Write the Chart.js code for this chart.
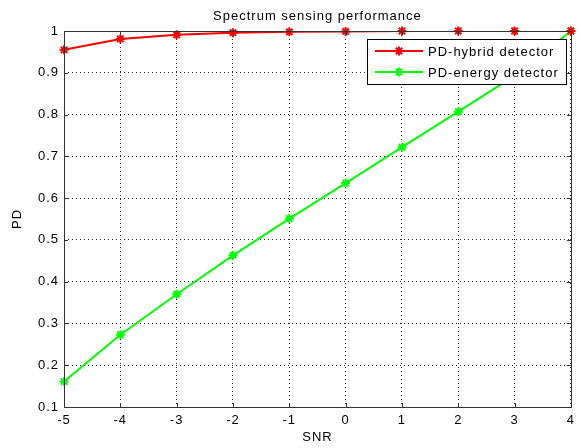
<!DOCTYPE html>
<html>
<head>
<meta charset="utf-8">
<style>
  html, body { margin: 0; padding: 0; background: #ffffff; }
  #wrap { width: 581px; height: 448px; }
</style>
<script src="https://cdn.jsdelivr.net/npm/chart.js@4/dist/chart.umd.min.js"></script>
</head>
<body>
<div id="wrap"><canvas id="c" width="581" height="448"></canvas></div>
<script>
// ---- data ----
const snr = [-5, -4, -3, -2, -1, 0, 1, 2, 3, 4];
const pdHybrid = [0.955, 0.981, 0.991, 0.996, 0.998, 0.999, 1.0, 1.0, 1.0, 1.0];
const pdEnergy = [0.161, 0.273, 0.370, 0.463, 0.551, 0.636, 0.722, 0.807, 0.893, 1.0];
const seriesNames = ['PD-hybrid detector', 'PD-energy detector'];
const seriesColors = ['#ff0000', '#00ff00'];
const chartTitle = 'Spectrum sensing performance';
const xTitle = 'SNR';
const yTitle = 'PD';

const FONT = '"Liberation Sans", Arial, Helvetica, sans-serif';
const SP = '1px';

const spacingPlugin = {
  id: 'spacing',
  beforeDraw(chart) { try { chart.ctx.letterSpacing = SP; } catch (e) {} },
  beforeUpdate(chart) { try { chart.ctx.letterSpacing = SP; } catch (e) {} }
};

const framePlugin = {
  id: 'frame',
  afterDatasetsDraw(chart) {
    const ctx = chart.ctx;
    const a = chart.chartArea;
    const xs = chart.scales.x, ys = chart.scales.y;
    ctx.save();
    ctx.strokeStyle = '#333333';
    ctx.lineWidth = 1;
    // inward tick marks
    ctx.beginPath();
    snr.forEach(v => {
      const px = Math.round(xs.getPixelForValue(v)) + 0.5;
      ctx.moveTo(px, a.bottom); ctx.lineTo(px, a.bottom - 4);
      ctx.moveTo(px, a.top); ctx.lineTo(px, a.top + 4);
    });
    ys.ticks.forEach(t => {
      const py = Math.round(ys.getPixelForValue(t.value)) + 0.5;
      ctx.moveTo(a.left, py); ctx.lineTo(a.left + 4, py);
      ctx.moveTo(a.right, py); ctx.lineTo(a.right - 4, py);
    });
    ctx.stroke();
    // full box
    ctx.strokeRect(Math.round(a.left) + 0.5, Math.round(a.top) + 0.5,
                   Math.round(a.right - a.left), Math.round(a.bottom - a.top));
    ctx.restore();
  },
  afterDraw(chart) {
    const ctx = chart.ctx;
    const a = chart.chartArea;
    ctx.save();
    // legend box
    const lx = 367, ly = 39, lw = 199, lh = 45;
    ctx.fillStyle = '#ffffff';
    ctx.fillRect(lx, ly, lw, lh);
    ctx.strokeStyle = '#000000';
    ctx.lineWidth = 1;
    ctx.strokeRect(lx + 0.5, ly + 0.5, lw, lh);
    const rows = [51, 72];
    ctx.font = '13px ' + FONT;
    ctx.textBaseline = 'middle';
    ctx.textAlign = 'left';
    rows.forEach((ry, i) => {
      ctx.strokeStyle = seriesColors[i];
      ctx.fillStyle = seriesColors[i];
      ctx.lineWidth = 2;
      ctx.beginPath();
      ctx.moveTo(375, ry); ctx.lineTo(423, ry);
      ctx.stroke();
      Chart.helpers.drawPoint(ctx, {pointStyle: 'star', radius: 4.5, borderWidth: 2}, 399, ry);
      ctx.fillStyle = '#000000';
      ctx.fillText(seriesNames[i], 428, ry + 1);
    });

    // title
    ctx.fillStyle = '#000000';
    ctx.textAlign = 'center';
    ctx.textBaseline = 'middle';
    ctx.font = '13px ' + FONT;
    ctx.fillText(chartTitle, (a.left + a.right) / 2, 16);
    ctx.restore();
  }
};

const gridCfg = {
  color: 'rgba(0,0,0,0.85)',
  lineWidth: 1,
  drawTicks: false
};

function lineSet(name, values, color) {
  return {
    label: name,
    data: snr.map((x, i) => ({x: x, y: values[i]})),
    borderColor: color,
    backgroundColor: color,
    borderWidth: 2,
    pointRadius: 0,
    tension: 0,
    clip: {left: false, right: false, bottom: false, top: -1}
  };
}
function pointSet(name, values, color) {
  return {
    label: name,
    data: snr.map((x, i) => ({x: x, y: values[i]})),
    showLine: false,
    borderColor: color,
    backgroundColor: color,
    pointStyle: 'star',
    pointRadius: 4.5,
    pointBorderWidth: 2,
    pointBorderColor: color,
    clip: false
  };
}

new Chart(document.getElementById('c'), {
  type: 'line',
  data: {
    datasets: [
      lineSet(seriesNames[0], pdHybrid, seriesColors[0]),
      pointSet(seriesNames[0], pdHybrid, seriesColors[0]),
      lineSet(seriesNames[1], pdEnergy, seriesColors[1]),
      pointSet(seriesNames[1], pdEnergy, seriesColors[1])
    ]
  },
  options: {
    responsive: false,
    animation: false,
    devicePixelRatio: 1,
    layout: { padding: { top: 31, right: 8, left: 0, bottom: 0 } },
    plugins: {
      legend: { display: false },
      title: { display: false },
      tooltip: { enabled: false }
    },
    scales: {
      x: {
        type: 'linear',
        min: -5, max: 4,
        afterFit(s) { s.height = 41; },
        ticks: {
          stepSize: 1,
          padding: 6,
          color: '#000000',
          font: { family: FONT, size: 13 },
          maxRotation: 0
        },
        grid: Object.assign({}, gridCfg),
        border: { display: false, dash: [1, 3] },
        title: {
          display: true, text: xTitle, color: '#000000',
          font: { family: FONT, size: 13 },
          padding: { top: 0, bottom: 3 }
        }
      },
      y: {
        type: 'linear',
        min: 0.1, max: 1,
        afterFit(s) { s.width = 64; },
        ticks: {
          stepSize: 0.1,
          padding: 5,
          color: '#000000',
          font: { family: FONT, size: 13 },
          callback: v => String(Math.round(v * 10) / 10)
        },
        grid: Object.assign({}, gridCfg),
        border: { display: false, dash: [1, 3] },
        title: {
          display: true, text: yTitle, color: '#000000',
          font: { family: FONT, size: 13 },
          padding: { top: 10, bottom: 0 }
        }
      }
    }
  },
  plugins: [spacingPlugin, framePlugin]
});
</script>
</body>
</html>
